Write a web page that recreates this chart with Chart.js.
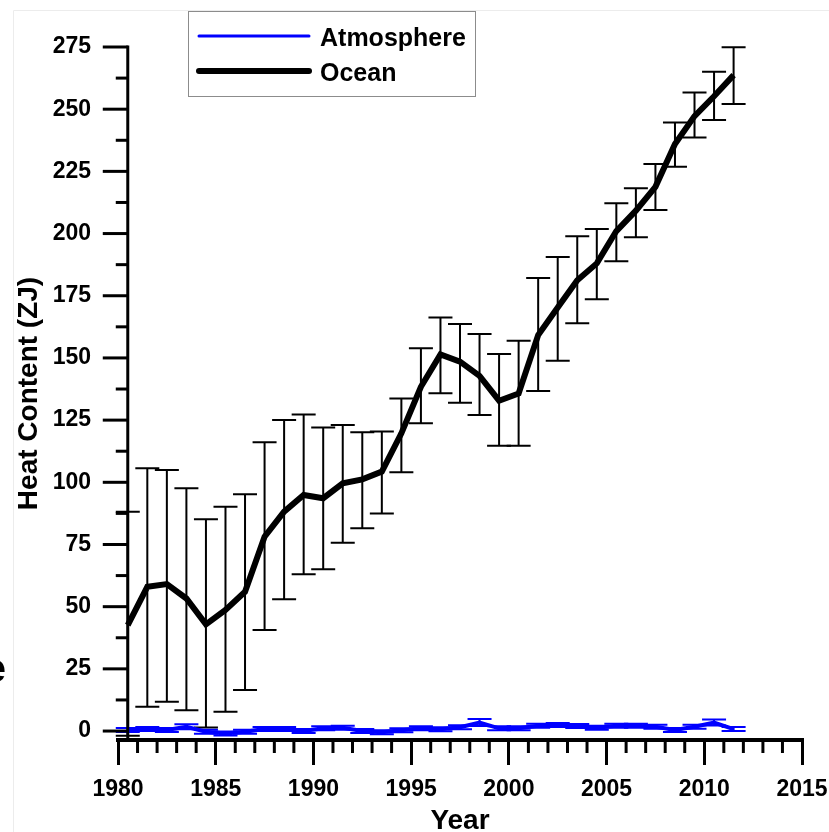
<!DOCTYPE html>
<html lang="en">
  <head>
    <meta charset="UTF-8" />
    <title>Heat Content</title>
    <script src="https://cdn.jsdelivr.net/npm/chart.js"></script>
    <style>
      html,
      body {
        margin: 0;
        padding: 0;
        background: #fff;
      }
    </style>
  </head>
  <body>
    <canvas id="myChart" width="829" height="832"></canvas>

    <script>
      // yearly values, plotted at mid-year
      var years = [
        1980.5, 1981.5, 1982.5, 1983.5, 1984.5, 1985.5, 1986.5, 1987.5,
        1988.5, 1989.5, 1990.5, 1991.5, 1992.5, 1993.5, 1994.5, 1995.5,
        1996.5, 1997.5, 1998.5, 1999.5, 2000.5, 2001.5, 2002.5, 2003.5,
        2004.5, 2005.5, 2006.5, 2007.5, 2008.5, 2009.5, 2010.5, 2011.5,
      ];

      var ocean = [
        42.6, 58.0, 59.1, 53.3, 42.9, 48.7, 56.0, 78.1, 88.2, 94.9, 93.6,
        99.6, 101.2, 104.3, 119.7, 138.4, 151.4, 148.5, 142.8, 132.8, 135.7,
        159.2, 170.3, 181.2, 188.0, 201.0, 209.2, 218.8, 236.0, 247.2, 255.2,
        263.7,
      ];
      var oceanHigh = [
        88.2, 105.6, 104.9, 97.6, 85.1, 90.2, 95.2, 116.1, 125.0, 127.3,
        122.0, 123.0, 120.1, 120.4, 133.7, 153.9, 166.3, 163.6, 159.6, 151.6,
        156.9, 182.1, 190.6, 198.9, 201.8, 212.2, 218.2, 228.0, 244.6, 256.7,
        265.1, 274.9,
      ];
      var oceanLow = [
        -1.9, 9.8, 11.8, 8.4, 1.4, 7.8, 16.5, 40.6, 53.0, 63.0, 65.0, 75.7,
        81.5, 87.5, 104.0, 123.7, 135.8, 132.0, 127.1, 114.7, 114.7, 136.7,
        148.9, 163.9, 173.6, 188.9, 198.5, 209.5, 226.9, 238.6, 245.7, 252.1,
      ];

      var atmosphere = [
        0.4, 0.8, 0.4, 1.7, -0.3, -1.0, -0.3, 0.8, 0.8, 0.0, 1.1, 1.3, 0.0,
        -0.5, 0.3, 1.1, 0.7, 1.5, 3.4, 1.1, 1.1, 2.1, 2.4, 2.0, 1.3, 2.1, 2.1,
        1.7, 0.4, 1.7, 3.4, 0.8,
      ];
      var atmosphereErr = [
        0.8, 0.8, 0.8, 1.0, 0.8, 0.8, 0.8, 0.8, 0.8, 0.8, 0.8, 0.8, 0.8, 0.8,
        0.8, 0.8, 0.8, 0.8, 1.4, 0.8, 0.8, 0.8, 0.8, 0.8, 0.8, 0.8, 0.8, 0.8,
        0.8, 0.8, 1.2, 0.8,
      ];

      var yearTicks = [1980, 1985, 1990, 1995, 2000, 2005, 2010, 2015];
      var heatTicks = [0, 25, 50, 75, 100, 125, 150, 175, 200, 225, 250, 275];

      var FONT = "'Liberation Sans', Arial, sans-serif";
      var BLUE = "#0000ff";

      function points(values) {
        return years.map(function (yr, i) {
          return { x: yr, y: values[i] };
        });
      }

      function errorBars(ctx, xs, ys, lows, highs, color) {
        ctx.save();
        ctx.strokeStyle = color;
        ctx.lineWidth = 2;
        for (var i = 0; i < years.length; i++) {
          var px = xs.getPixelForValue(years[i]);
          var top = ys.getPixelForValue(highs[i]);
          var bot = ys.getPixelForValue(lows[i]);
          ctx.beginPath();
          ctx.moveTo(px, top);
          ctx.lineTo(px, bot);
          ctx.moveTo(px - 12, top);
          ctx.lineTo(px + 12, top);
          ctx.moveTo(px - 12, bot);
          ctx.lineTo(px + 12, bot);
          ctx.stroke();
        }
        ctx.restore();
      }

      // error bars, the y axis drawn at the first sample, minor ticks and the legend box
      var decorations = {
        id: "decorations",
        beforeDraw: function (chart) {
          var ctx = chart.ctx;
          ctx.save();
          ctx.strokeStyle = "#ececec";
          ctx.lineWidth = 1;
          ctx.beginPath();
          ctx.moveTo(13.5, chart.height);
          ctx.lineTo(13.5, 10.5);
          ctx.lineTo(chart.width, 10.5);
          ctx.stroke();
          ctx.fillStyle = "#000";
          ctx.font = "bold 40px " + FONT;
          ctx.textAlign = "right";
          ctx.fillText("e", 6, 682);
          ctx.restore();
        },
        beforeDatasetsDraw: function (chart) {
          var xs = chart.scales.x;
          var ys = chart.scales.y;
          var ctx = chart.ctx;
          errorBars(ctx, xs, ys, oceanLow, oceanHigh, "#000");
          errorBars(
            ctx,
            xs,
            ys,
            atmosphere.map(function (v, i) {
              return v - atmosphereErr[i];
            }),
            atmosphere.map(function (v, i) {
              return v + atmosphereErr[i];
            }),
            BLUE
          );
        },
        afterDraw: function (chart) {
          var xs = chart.scales.x;
          var ys = chart.scales.y;
          var area = chart.chartArea;
          var ctx = chart.ctx;
          ctx.save();
          ctx.strokeStyle = "#000";

          // y axis
          var ax = xs.getPixelForValue(years[0]);
          ctx.lineWidth = 3;
          ctx.beginPath();
          ctx.moveTo(ax, ys.getPixelForValue(275) - 1.5);
          ctx.lineTo(ax, area.bottom);
          ctx.stroke();
          for (var v = 0; v <= 275; v += 12.5) {
            var py = ys.getPixelForValue(v);
            var len = v % 25 === 0 ? 25 : 12;
            ctx.beginPath();
            ctx.moveTo(ax - len, py);
            ctx.lineTo(ax, py);
            ctx.stroke();
          }

          // minor year ticks
          for (var yr = 1981; yr < 2015; yr++) {
            if (yr % 5 === 0) continue;
            var px = xs.getPixelForValue(yr);
            ctx.beginPath();
            ctx.moveTo(px, area.bottom);
            ctx.lineTo(px, area.bottom + 13);
            ctx.stroke();
          }

          // legend
          ctx.fillStyle = "#fff";
          ctx.fillRect(188.5, 11.5, 287, 85);
          ctx.strokeStyle = "#8c8c8c";
          ctx.lineWidth = 1;
          ctx.strokeRect(188.5, 11.5, 287, 85);
          ctx.font = "bold 25px " + FONT;
          ctx.fillStyle = "#000";
          ctx.textBaseline = "alphabetic";
          var rows = [36, 71];
          chart.data.datasets.forEach(function (ds, i) {
            ctx.strokeStyle = ds.borderColor;
            ctx.lineWidth = ds.legendWidth;
            ctx.lineCap = "round";
            ctx.beginPath();
            ctx.moveTo(199, rows[i]);
            ctx.lineTo(309, rows[i]);
            ctx.stroke();
            ctx.fillText(ds.label, 320, rows[i] + 9.5);
          });
          ctx.restore();
        },
      };

      var ctx = document.getElementById("myChart").getContext("2d");

      var myChart = new Chart(ctx, {
        type: "line",
        data: {
          datasets: [
            {
              label: "Atmosphere",
              data: points(atmosphere),
              borderColor: BLUE,
              borderWidth: 4,
              legendWidth: 3,
              pointRadius: 0,
              fill: false,
            },
            {
              label: "Ocean",
              data: points(ocean),
              borderColor: "#000",
              borderWidth: 6,
              legendWidth: 6,
              pointRadius: 0,
              fill: false,
            },
          ],
        },
        options: {
          responsive: false,
          animation: false,
          devicePixelRatio: 1,
          layout: {
            padding: { top: 47, right: 27, bottom: 0, left: 0 },
          },
          plugins: {
            legend: { display: false },
            tooltip: { enabled: false },
          },
          scales: {
            x: {
              type: "linear",
              min: 1980,
              max: 2015,
              afterBuildTicks: function (scale) {
                scale.ticks = yearTicks.map(function (v) {
                  return { value: v };
                });
              },
              afterFit: function (scale) {
                scale.height = 92;
                scale.paddingLeft = 0;
                scale.paddingRight = 0;
              },
              grid: {
                drawOnChartArea: false,
                drawTicks: true,
                tickLength: 25,
                color: "#000",
                lineWidth: 3,
              },
              border: { display: true, color: "#000", width: 4 },
              ticks: {
                color: "#000",
                padding: 11,
                maxRotation: 0,
                font: { family: FONT, size: 23, weight: "bold" },
                callback: function (v) {
                  return String(v);
                },
              },
              title: {
                display: true,
                text: "Year",
                color: "#000",
                font: { family: FONT, size: 28, weight: "bold", lineHeight: 0.8 },
                padding: { top: 0, bottom: 0 },
              },
            },
            y: {
              type: "linear",
              min: -3.6,
              max: 275,
              afterBuildTicks: function (scale) {
                scale.ticks = heatTicks.map(function (v) {
                  return { value: v };
                });
              },
              afterFit: function (scale) {
                scale.width = 118;
              },
              grid: { display: false, drawTicks: false, tickLength: 0 },
              border: { display: false },
              ticks: {
                color: "#000",
                padding: 27,
                font: { family: FONT, size: 23, weight: "bold" },
              },
              title: {
                display: true,
                text: "Heat Content (ZJ)",
                color: "#000",
                font: { family: FONT, size: 28, weight: "bold" },
                padding: { top: 12, bottom: 0 },
              },
            },
          },
        },
        plugins: [decorations],
      });
    </script>
  </body>
</html>
